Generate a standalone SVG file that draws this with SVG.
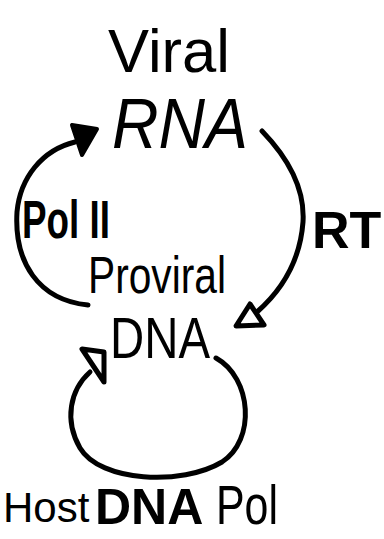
<svg xmlns="http://www.w3.org/2000/svg" width="384" height="539" viewBox="0 0 384 539">
<style>
.t{font-family:"Liberation Sans",Arial,sans-serif;fill:#000}
.c{fill:none;stroke:#000;stroke-width:5;stroke-linecap:round;stroke-linejoin:round}
.h{fill:#000;stroke:#000;stroke-width:4;stroke-linejoin:round}
.o{fill:#fff;stroke:#000;stroke-width:5;stroke-linejoin:round}
</style>
<rect width="384" height="539" fill="#fff"/>
<g id="viral-rna">
<text class="t" x="108" y="72" font-size="62" textLength="122" lengthAdjust="spacingAndGlyphs">Viral</text>
<text class="t" x="112" y="148" font-size="70" font-style="italic" textLength="136" lengthAdjust="spacingAndGlyphs">RNA</text>
</g>
<g id="proviral-dna">
<text class="t" x="88" y="293" font-size="52" textLength="138" lengthAdjust="spacingAndGlyphs">Proviral</text>
<text class="t" x="110" y="358" font-size="58" textLength="100" lengthAdjust="spacingAndGlyphs">DNA</text>
</g>
<g id="labels">
<text class="t" x="22" y="238" font-size="54" font-weight="bold" textLength="88" lengthAdjust="spacingAndGlyphs">Pol II</text>
<text class="t" x="312" y="248" font-size="52" font-weight="bold">RT</text>
<text class="t" x="3" y="522" font-size="42">Host</text>
<text class="t" x="95" y="524" font-size="50" font-weight="bold">DNA</text>
<text class="t" x="216" y="524" font-size="56" textLength="62" lengthAdjust="spacingAndGlyphs">Pol</text>
</g>
<g id="connectors">
<path class="c" d="M 75 142 C 42 150 20 178 17 212 C 14 262 38 300 88 305"/>
<polygon class="h" points="72,125 97,129 82,155"/>
<path class="c" d="M 262 131 C 290 160 305 190 303 222 C 300 262 282 290 257 312"/>
<polygon class="o" points="236,326 250,304 264,325"/>
<path class="c" d="M 216 358 C 252 378 256 440 222 462 C 182 486 100 482 80 448 C 64 420 70 390 90 372"/>
<polygon class="o" points="82,349 104,352 104,382"/>
</g>
</svg>
